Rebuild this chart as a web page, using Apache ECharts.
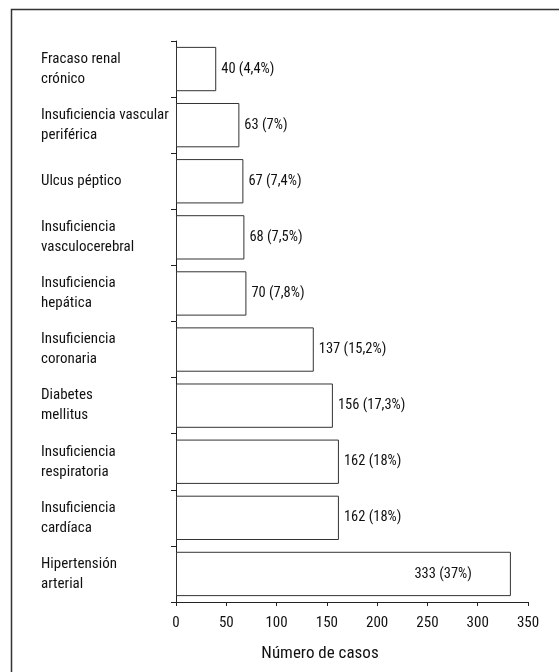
<!DOCTYPE html>
<html><head><meta charset="utf-8">
<script src="https://cdn.jsdelivr.net/npm/echarts@6/dist/echarts.min.js"></script>
<style>html,body{margin:0;padding:0;background:#fff}#c{width:559px;height:672px}</style>
</head><body><div id="c"></div>
<script>
var categories = ['Fracaso renal\ncrónico','Insuficiencia vascular\nperiférica','Ulcus péptico','Insuficiencia\nvasculocerebral','Insuficiencia\nhepática','Insuficiencia\ncoronaria','Diabetes\nmellitus','Insuficiencia\nrespiratoria','Insuficiencia\ncardíaca','Hipertensión\narterial'];
var casos = [40,63,67,68,70,137,156,162,162,333];
var porcentajes = ['4,4%','7%','7,4%','7,5%','7,8%','15,2%','17,3%','18%','18%','37%'];
var xTicks = [0,50,100,150,200,250,300,350];
var FONT = "'Roboto Condensed','Liberation Sans',sans-serif";

var chart = echarts.init(document.getElementById('c'));
var data = casos.map(function(v,i){
  var d = {value:v};
  if (i === casos.length-1) {
    d.label = {position:'insideRight', distance:39};
  }
  return d;
});
chart.setOption({
  animation:false,
  backgroundColor:'#fff',
  graphic:[{type:'rect', shape:{x:11.5,y:9.5,width:700,height:800}, style:{fill:'none',stroke:'#333',lineWidth:1.5}, z:-1}],
  grid:{left:176, top:41, right:31, bottom:70},
  xAxis:{type:'value', min:xTicks[0], max:xTicks[xTicks.length-1], interval:xTicks[1]-xTicks[0],
    axisLine:{show:true, lineStyle:{color:'#222',width:1}},
    axisTick:{show:true, length:4, lineStyle:{color:'#222'}},
    splitLine:{show:false},
    axisLabel:{color:'#111', fontSize:15, fontFamily:FONT, margin:14},
    name:'Número de casos', nameLocation:'middle', nameGap:43,
    nameTextStyle:{color:'#111', fontSize:17, fontFamily:FONT, padding:[0,64,0,0]}
  },
  yAxis:{type:'category', data:categories, inverse:true,
    axisLine:{show:true, lineStyle:{color:'#222',width:1}},
    axisTick:{show:true, length:5, lineStyle:{color:'#222'}},
    axisLabel:{color:'#111', fontSize:15, fontFamily:FONT, align:'left', margin:135, lineHeight:20, padding:[4,0,0,0]}
  },
  series:[{type:'bar', data:data, barCategoryGap:'21%',
    itemStyle:{color:'#fff', borderColor:'#333', borderWidth:1},
    label:{show:true, position:'right', distance:5, color:'#111', fontSize:14.5, fontFamily:FONT,
      formatter:function(p){return casos[p.dataIndex]+' ('+porcentajes[p.dataIndex]+')';}}
  }]
});
</script></body></html>
